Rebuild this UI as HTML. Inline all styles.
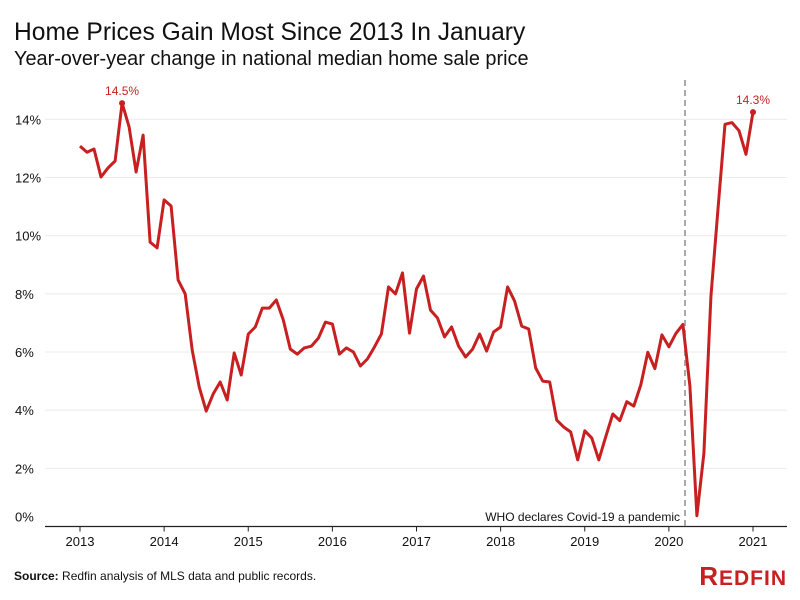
<!DOCTYPE html>
<html><head><meta charset="utf-8"><style>
body{margin:0;background:#fff;}
svg{display:block;font-family:"Liberation Sans",sans-serif;}
</style></head><body>
<svg id="chart" width="800" height="600" viewBox="0 0 800 600">
<text x="14" y="40" font-size="24.6" fill="#111">Home Prices Gain Most Since 2013 In January</text>
<text x="14" y="65" font-size="19.9" fill="#111">Year-over-year change in national median home sale price</text>
<g id="grid"></g><g id="axes"></g><g id="series"></g>
<text x="14" y="580" font-size="12" fill="#111"><tspan font-weight="bold">Source:</tspan> Redfin analysis of MLS data and public records.</text>
<text x="787" y="585" text-anchor="end" font-size="26" font-weight="bold" fill="#c82021" letter-spacing="1">R<tspan font-size="21">EDFIN</tspan></text>
</svg>
<script>
const startYear = 2013;
const values = [13.08,12.87,12.98,12.02,12.33,12.57,14.56,13.74,12.19,13.46,9.78,9.58,
11.23,11.02,8.48,8.0,6.07,4.8,3.97,4.56,4.97,4.35,5.97,5.21,
6.62,6.86,7.51,7.51,7.79,7.1,6.1,5.93,6.14,6.2,6.48,7.03,
6.96,5.93,6.14,6.0,5.52,5.76,6.17,6.62,8.24,8.0,8.72,6.65,
8.17,8.61,7.44,7.17,6.52,6.86,6.2,5.83,6.1,6.62,6.03,6.69,
6.86,8.24,7.75,6.89,6.79,5.45,5.0,4.97,3.66,3.42,3.25,2.29,
3.29,3.04,2.29,3.09,3.87,3.64,4.29,4.14,4.87,5.99,5.43,6.59,
6.18,6.64,6.95,4.83,0.37,2.52,7.9,10.88,13.83,13.89,13.61,12.8,
14.25];
const yTicks = [0,2,4,6,8,10,12,14];
const xTicks = [2013,2014,2015,2016,2017,2018,2019,2020,2021];
const labels = [{i:6,text:"14.5%"},{i:96,text:"14.3%"}];
const eventIndex = 86.3;
const eventText = "WHO declares Covid-19 a pandemic";

const NS="http://www.w3.org/2000/svg";
const x0=80, x1=753, yBase=526.5, yPer=29.08;
const xs = m => x0 + m*(x1-x0)/96;
const ys = v => yBase - v*yPer;
function mk(tag,attrs,parent,txt){const e=document.createElementNS(NS,tag);for(const k in attrs)e.setAttribute(k,attrs[k]);if(txt!==undefined)e.textContent=txt;parent.appendChild(e);return e;}
const grid=document.getElementById('grid'),axes=document.getElementById('axes'),series=document.getElementById('series');
yTicks.forEach(t=>{
  if(t>0){const l=mk('line',{x1:45,x2:787,y1:ys(t),y2:ys(t),stroke:'#ebebeb','stroke-width':1},grid);
  
  }
  const tx=mk('text',{x:15,y:(t===0?ys(t)-5:ys(t)+5),'font-size':13,fill:'#111'},axes,t+'%');
  
  
});
const ax=mk('line',{x1:45,x2:787,y1:yBase,y2:yBase,stroke:'#222','stroke-width':1.3},axes);


xTicks.forEach(yr=>{
  const x=xs((yr-startYear)*12);
  const tk=mk('line',{x1:x,x2:x,y1:yBase,y2:yBase+5,stroke:'#222'},axes);
  
  
  const tl=mk('text',{x:x,y:546,'font-size':13,fill:'#111','text-anchor':'middle'},axes,String(yr));
  
  
});
const ex=xs(eventIndex);
const dl=mk('line',{x1:ex,x2:ex,y1:80,y2:yBase,stroke:'#aaa','stroke-width':2,'stroke-dasharray':'6,4'},series);


const et=mk('text',{x:ex-5,y:521,'font-size':12,fill:'#111','text-anchor':'end'},series,eventText);


const pts=values.map((v,i)=>xs(i).toFixed(1)+','+ys(v).toFixed(1)).join(' ');
const pl=mk('polyline',{points:pts,fill:'none',stroke:'#c82021','stroke-width':3,'stroke-linejoin':'round'},series);


labels.forEach(o=>{
  const c=mk('circle',{cx:xs(o.i),cy:ys(values[o.i]),r:3,fill:'#c82021'},series);
  
  
  const t=mk('text',{x:xs(o.i),y:ys(values[o.i])-8,'font-size':12,fill:'#c82021','text-anchor':'middle'},series,o.text);
  
  
});
</script>
</body></html>
